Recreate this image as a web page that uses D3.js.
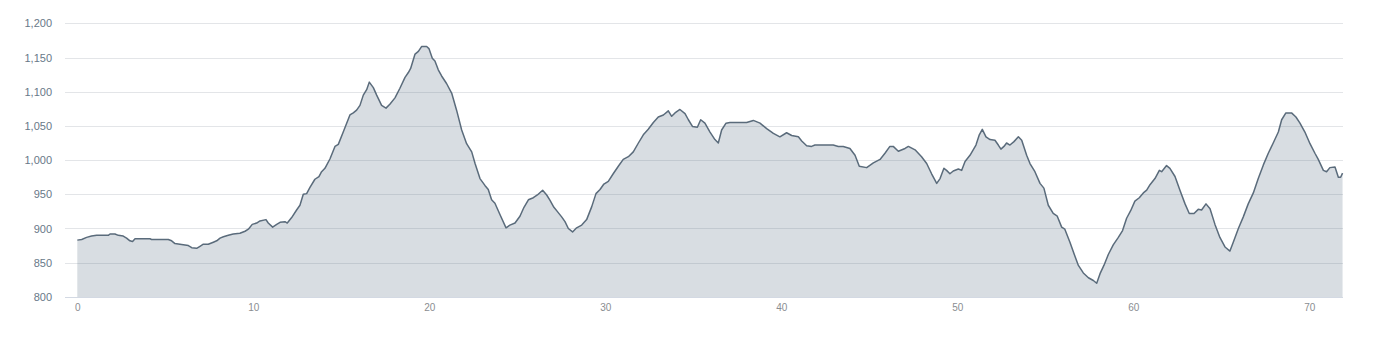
<!DOCTYPE html>
<html>
<head>
<meta charset="utf-8">
<script src="https://cdn.jsdelivr.net/npm/d3@7"></script>
<style>
  html, body { margin: 0; padding: 0; background: #ffffff; }
  svg { display: block; }
</style>
</head>
<body>
<svg id="chart" width="1374" height="348"></svg>
<script>
// ---- data (distance in km, elevation in m) ----
const distanceKm = [
  0, 0.25, 0.53, 0.81, 1.10, 1.76, 1.86, 2.14, 2.33, 2.61, 2.80, 2.99, 3.14, 3.28, 3.56, 4.13, 4.22,
  5.17, 5.36, 5.55, 5.83, 6.12, 6.31, 6.50, 6.78, 6.97, 7.16, 7.44, 7.73, 7.92, 8.11, 8.30, 8.58,
  8.86, 9.24, 9.53, 9.72, 9.94, 10.19, 10.38, 10.72, 10.85, 11.10, 11.33, 11.52, 11.80, 11.93,
  12.18, 12.46, 12.65, 12.84, 13.03, 13.22, 13.50, 13.73, 13.88, 14.07, 14.36, 14.64, 14.83,
  15.11, 15.49, 15.68, 15.87, 16.06, 16.25, 16.44, 16.59, 16.82, 17.01, 17.29, 17.54, 17.77,
  18.05, 18.33, 18.62, 18.81, 18.94, 19.19, 19.38, 19.56, 19.85, 19.98, 20.17, 20.32, 20.51,
  20.70, 20.98, 21.27, 21.55, 21.74, 21.84, 22.12, 22.41, 22.60, 22.88, 23.16, 23.35, 23.54,
  23.73, 24.02, 24.36, 24.58, 24.87, 25.15, 25.38, 25.63, 25.91, 26.14, 26.44, 26.67, 26.86,
  27.08, 27.27, 27.52, 27.71, 27.90, 28.14, 28.37, 28.66, 28.94, 29.23, 29.47, 29.70, 29.92,
  30.17, 30.45, 30.74, 31.02, 31.31, 31.59, 31.88, 32.16, 32.44, 32.73, 33.01, 33.30, 33.58,
  33.77, 33.96, 34.24, 34.53, 34.72, 34.96, 35.23, 35.42, 35.66, 35.95, 36.23, 36.42, 36.61,
  36.86, 37.08, 38.03, 38.41, 38.79, 39.17, 39.55, 39.92, 40.30, 40.59, 40.97, 41.16, 41.44,
  41.72, 41.91, 42.95, 43.24, 43.52, 43.90, 44.19, 44.43, 44.85, 45.23, 45.61, 45.89, 46.17,
  46.36, 46.65, 47.03, 47.22, 47.60, 47.97, 48.26, 48.54, 48.83, 49.02, 49.24, 49.39, 49.58,
  49.77, 50.06, 50.25, 50.44, 50.72, 51.06, 51.25, 51.42, 51.63, 51.86, 52.14, 52.33, 52.48,
  52.65, 52.80, 52.99, 53.22, 53.47, 53.66, 53.94, 54.13, 54.41, 54.70, 54.92, 55.17, 55.45,
  55.68, 55.93, 56.11, 56.40, 56.69, 56.88, 57.16, 57.45, 57.73, 57.92, 58.11, 58.33, 58.58,
  58.86, 59.15, 59.39, 59.62, 59.85, 60.09, 60.34, 60.57, 60.76, 60.95, 61.23, 61.48, 61.61,
  61.89, 62.08, 62.37, 62.65, 62.94, 63.18, 63.45, 63.69, 63.88, 64.13, 64.36, 64.64, 64.92,
  65.21, 65.49, 65.68, 65.97, 66.25, 66.53, 66.82, 67.10, 67.39, 67.67, 67.95, 68.24, 68.43,
  68.67, 68.99, 69.24, 69.47, 69.75, 70.04, 70.32, 70.51, 70.80, 70.98, 71.17, 71.46, 71.65,
  71.78, 71.89
];
const elevationM = [
  883, 884, 887, 889, 890, 890, 892, 892, 890, 889, 886, 882, 881, 885, 885, 885, 884,
  884, 882, 878, 877, 876, 875, 872, 871, 874, 877, 877, 880, 882, 886, 888, 890,
  892, 893, 896, 899, 906, 908, 911, 913, 908, 902, 906, 909, 910, 908,
  916, 927, 934, 950, 951, 960, 972, 976, 983, 988, 1002, 1020, 1023,
  1041, 1066, 1069, 1073, 1080, 1095, 1103, 1114, 1106, 1095, 1080, 1076, 1082,
  1091, 1105, 1121, 1128, 1134, 1155, 1159, 1166, 1166, 1163, 1149, 1145, 1132,
  1123, 1112, 1098, 1073, 1054, 1044, 1024, 1012, 995, 973, 963, 957, 942,
  937, 920, 901, 905, 908, 918, 931, 942, 945, 949, 956, 949, 941,
  931, 925, 917, 910, 900, 895, 901, 905, 913, 932, 951, 957, 965,
  969, 980, 991, 1001, 1005, 1012, 1025, 1037, 1045, 1055, 1063, 1066, 1072,
  1064, 1069, 1074, 1068, 1059, 1049, 1048, 1059, 1054, 1041, 1030, 1025, 1044,
  1054, 1055, 1055, 1058, 1054, 1046, 1039, 1034, 1040, 1036, 1034, 1028, 1021,
  1020, 1022, 1022, 1020, 1020, 1017, 1007, 991, 989, 996, 1001, 1010, 1020,
  1020, 1013, 1017, 1020, 1015, 1005, 995, 980, 966, 973, 988, 985, 980,
  984, 987, 985, 998, 1007, 1022, 1037, 1045, 1034, 1030, 1029, 1022, 1016,
  1020, 1025, 1022, 1027, 1034, 1029, 1007, 995, 983, 966, 959, 934, 922,
  918, 902, 899, 880, 859, 846, 835, 828, 824, 820, 834, 846, 862,
  876, 887, 897, 915, 926, 940, 945, 952, 956, 964, 973, 985, 983,
  992, 988, 976, 956, 936, 922, 922, 928, 927, 936, 929, 906, 887,
  873, 867, 880, 900, 917, 936, 952, 973, 993, 1010, 1025, 1041, 1059,
  1069, 1069, 1063, 1054, 1041, 1024, 1010, 1001, 985, 983, 989, 990, 975,
  975, 981
];
const yTicks = [800, 850, 900, 950, 1000, 1050, 1100, 1150, 1200];
const xTicks = [0, 10, 20, 30, 40, 50, 60, 70];

// ---- layout ----
const plotLeft = 65, plotRight = 1343, plotTop = 23.3, plotBottom = 296.9;

const svg = d3.select("#chart");
const x = d3.scaleLinear().domain([0, 70]).range([77.3, 1309.3]);
const y = d3.scaleLinear().domain([800, 1200]).range([plotBottom, plotTop]);

const data = distanceKm.map((d, i) => ({ d, e: elevationM[i] }));

// gridlines
svg.append("g")
  .selectAll("line")
  .data(yTicks.filter(t => t !== 800))
  .join("line")
  .attr("x1", plotLeft).attr("x2", plotRight)
  .attr("y1", d => Math.round(y(d)) + 0.5).attr("y2", d => Math.round(y(d)) + 0.5)
  .attr("stroke", "#e3e5e8").attr("stroke-width", 1);

// area
const area = d3.area()
  .x(p => x(p.d))
  .y0(y(800))
  .y1(p => y(p.e));
svg.append("path")
  .datum(data)
  .attr("d", area)
  .attr("fill", "rgba(92,112,135,0.24)");

// line
const line = d3.line().x(p => x(p.d)).y(p => y(p.e));
svg.append("path")
  .datum(data)
  .attr("d", line)
  .attr("fill", "none")
  .attr("stroke", "#5a6b7b")
  .attr("stroke-width", 1.5)
  .attr("stroke-linejoin", "round");

// baseline (x axis line)
svg.append("line")
  .attr("x1", plotLeft).attr("x2", plotRight)
  .attr("y1", Math.round(y(800)) + 0.5).attr("y2", Math.round(y(800)) + 0.5)
  .attr("stroke", "#d3d9e3").attr("stroke-width", 1);

// y labels
const fmt = d3.format(",");
const yAxis = d3.axisLeft(y).tickValues(yTicks).tickFormat(fmt).tickSize(0).tickPadding(0);
const gy = svg.append("g").attr("transform", "translate(52,0)").call(yAxis);
gy.select(".domain").remove();
gy.selectAll("text")
  .attr("fill", "#687888")
  .style("font-family", "'Liberation Sans', Arial, sans-serif")
  .style("font-size", "11px");

// x labels
const xAxis = d3.axisBottom(x).tickValues(xTicks).tickFormat(d3.format("d")).tickSize(0).tickPadding(0);
const gx = svg.append("g").attr("transform", "translate(0,304)").call(xAxis);
gx.select(".domain").remove();
gx.selectAll("text")
  .attr("fill", "#8a8d91")
  .style("font-family", "'Liberation Sans', Arial, sans-serif")
  .style("font-size", "10px");
</script>
</body>
</html>
